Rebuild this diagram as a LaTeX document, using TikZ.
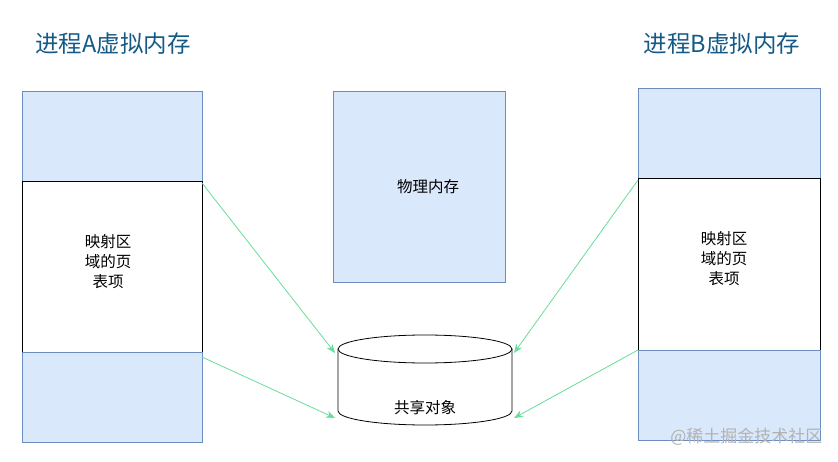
\documentclass[tikz,border=0pt]{standalone}
\usepackage{fontspec}
\setmainfont{Noto Sans CJK SC}
\usetikzlibrary{arrows.meta}
\definecolor{bfill}{HTML}{DAE8FC}
\definecolor{bdraw}{HTML}{6C8EBF}
\definecolor{ttl}{HTML}{155A87}
\definecolor{grn}{HTML}{66DD99}
\begin{document}
\begin{tikzpicture}[x=1pt,y=-1pt,
 blue/.style={fill=bfill,draw=bdraw,line width=0.8pt},
 white/.style={fill=white,draw=black,line width=0.8pt},
 lbl/.style={font=\fontsize{15.5}{20}\selectfont,align=center},
 ttlstyle/.style={font=\fontsize{23.5}{26}\selectfont,text=ttl},
 arr/.style={draw=grn,line width=0.8pt,-{Stealth[length=9pt,width=7pt]}}]
\useasboundingbox (0,0) rectangle (838,462);
\node[ttlstyle] (ta) at (113,44) {进程A虚拟内存};
\node[ttlstyle] (tb) at (722,44) {进程B虚拟内存};
\draw[blue] (22,91) rectangle (202,181);
\draw[white] (22,181) rectangle (202,352);
\draw[blue] (22,352) rectangle (202,442);
\node[lbl] (ma) at (108,262) {映射区\\域的页\\表项};
\draw[blue] (333,91) rectangle (505,282);
\node[lbl] (pm) at (428,187) {物理内存};
\draw[blue] (638,88) rectangle (820,178);
\draw[white] (638,178) rectangle (820,350);
\draw[blue] (638,350) rectangle (820,440);
\node[lbl] (mb) at (724,259) {映射区\\域的页\\表项};
% cylinder
\draw[white] (338,349) -- (338,411) arc[start angle=180,end angle=0,x radius=87,y radius=14] -- (512,349);
\draw[white] (425,349) ellipse[x radius=87,y radius=14];
\node[lbl] (cyl) at (425,408) {共享对象};
\coordinate (a1) at (202,183); \coordinate (a2) at (202,357);
\coordinate (b1) at (638,180); \coordinate (b2) at (638,350);
\coordinate (c1) at (335,353); \coordinate (c2) at (335,418);
\coordinate (d1) at (514,353); \coordinate (d2) at (514,418);
\draw[arr] (a1) -- (c1); \draw[arr] (a2) -- (c2);
\draw[arr] (b1) -- (d1); \draw[arr] (b2) -- (d2);
\node[font=\fontsize{17}{19}\selectfont,text=black!30,anchor=east] (wm) at (826,437) {@稀土掘金技术社区};
\end{tikzpicture}
\end{document}
